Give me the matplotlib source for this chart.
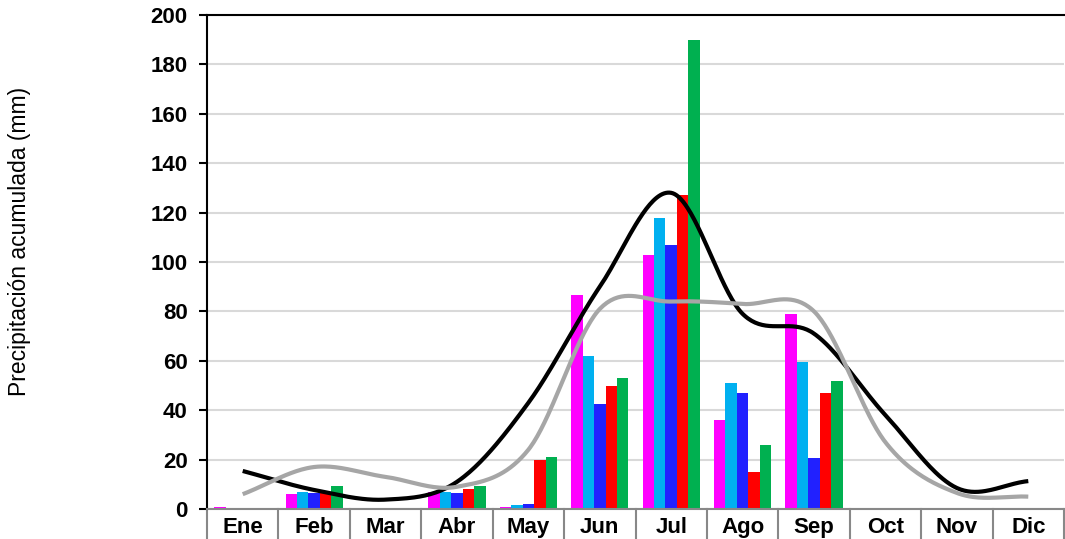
import numpy as np
import matplotlib
matplotlib.use("Agg")
import matplotlib.pyplot as plt

plt.rcParams['font.family'] = ['Liberation Sans', 'DejaVu Sans']

months = ["Ene", "Feb", "Mar", "Abr", "May", "Jun", "Jul", "Ago", "Sep", "Oct", "Nov", "Dic"]
s1 = [1.0, 6.0, 0, 7.0, 1.0, 86.5, 103, 36, 79, 0, 0, 0]       # magenta
s2 = [0, 7.0, 0, 7.0, 1.5, 62, 118, 51, 59.5, 0, 0, 0]         # light blue
s3 = [0, 6.5, 0, 6.5, 2.0, 42.5, 107, 47, 20.5, 0, 0, 0]       # blue
s4 = [0.5, 6.5, 0, 8.0, 20, 50, 127, 15, 47, 0, 0, 0]          # red
s5 = [0.5, 9.5, 0, 9.5, 21, 53, 190, 26, 52, 0, 0, 0]          # green
black_line = [15.4, 7.7, 3.8, 11, 43, 90, 128, 79, 71, 38, 8.5, 11.3]
grey_line = [6, 17, 13, 9, 24, 81, 84, 83, 80, 27, 6.5, 5]

series = [s1, s2, s3, s4, s5]
colors = ["#FF00FF", "#00B0F0", "#2121FF", "#FF0000", "#00B050"]


def catmull_rom(y, n=40):
    y = np.asarray(y, float)
    x = np.arange(len(y), dtype=float)
    xs, ys = [], []
    for i in range(len(y) - 1):
        p0, p1 = y[i], y[i + 1]
        m0 = (y[i + 1] - y[i - 1]) / 2 if i > 0 else (y[1] - y[0])
        m1 = (y[i + 2] - y[i]) / 2 if i + 2 < len(y) else (y[-1] - y[-2])
        t = np.linspace(0, 1, n, endpoint=False)
        h00 = 2 * t**3 - 3 * t**2 + 1
        h10 = t**3 - 2 * t**2 + t
        h01 = -2 * t**3 + 3 * t**2
        h11 = t**3 - t**2
        xs.append(x[i] + t)
        ys.append(h00 * p0 + h10 * m0 + h01 * p1 + h11 * m1)
    xs.append([x[-1]])
    ys.append([y[-1]])
    return np.concatenate(xs), np.concatenate(ys)


W, H = 1065, 539
fig = plt.figure(figsize=(W / 100, H / 100), dpi=100)
left, right, bottom, top = 207, 1064, 509, 15
ax = fig.add_axes([left / W, 1 - bottom / H, (right - left) / W, (bottom - top) / H])

x = np.arange(len(months))
bw = 0.16
for k, (s, c) in enumerate(zip(series, colors)):
    ax.bar(x + (k - 2) * bw, s, width=bw, color=c, zorder=2)

bx, by = catmull_rom(black_line)
gx, gy = catmull_rom(grey_line)
ax.plot(bx, by, color="black", lw=3.0, zorder=3, solid_capstyle='butt')
ax.plot(gx, gy, color="#A6A6A6", lw=3.0, zorder=3, solid_capstyle='butt')

ax.set_xlim(-0.5, len(months) - 0.5)
ax.set_ylim(0, 200)
ax.set_yticks(np.arange(0, 201, 20))
ax.yaxis.grid(True, color="#D9D9D9", lw=1.5, zorder=0)
ax.set_axisbelow(True)

ax.spines["right"].set_visible(False)
ax.spines["top"].set_color("black")
ax.spines["top"].set_linewidth(1.5)
ax.spines["left"].set_color("black")
ax.spines["left"].set_linewidth(1.5)
ax.spines["bottom"].set_color("#888888")
ax.spines["bottom"].set_linewidth(1.5)

ax.tick_params(axis='y', direction='out', length=6, width=1.5, color='black', pad=8,
               labelsize=16)
for lbl in ax.get_yticklabels():
    lbl.set_fontweight('bold')

ax.set_xticks(x)
ax.set_xticklabels(months, fontsize=16, fontweight='bold')
ax.tick_params(axis='x', length=0, pad=6)

# category separators extending below the axis
trans = ax.get_xaxis_transform()
ext = -30 / (bottom - top)
for b in np.arange(-0.5, len(months) + 0.5, 1.0):
    ax.plot([b, b], [0, ext], transform=trans, color="#888888", lw=1.5, clip_on=False, zorder=1)

fig.text(20 / W, 1 - 241 / H, "Precipitación acumulada (mm)", rotation=90,
         ha='center', va='center', fontsize=16.5)

fig.savefig("out.png", dpi=100)
